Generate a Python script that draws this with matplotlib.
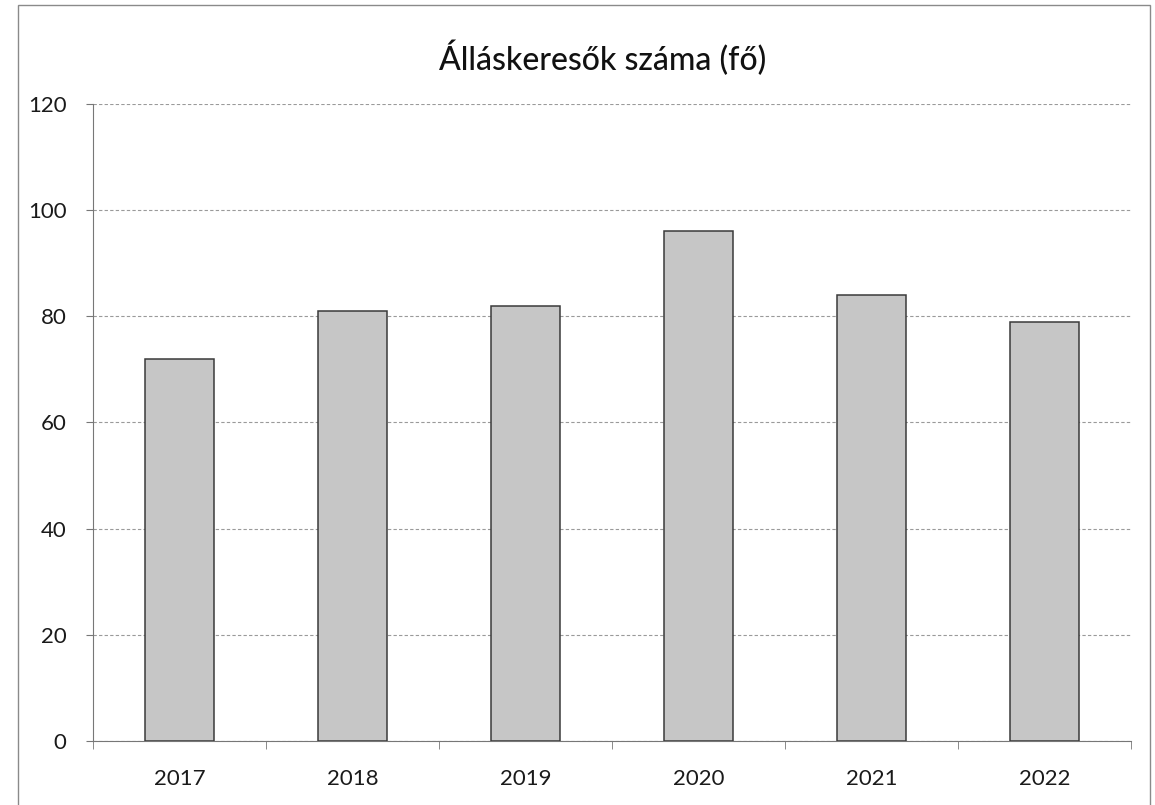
import matplotlib
matplotlib.use("Agg")
import matplotlib.pyplot as plt
from matplotlib.patches import Rectangle
import numpy as np

years = ["2017", "2018", "2019", "2020", "2021", "2022"]
values = [72, 81, 82, 96, 84, 79]
yticks = [0, 20, 40, 60, 80, 100, 120]
title = "Álláskeresők száma (fő)"

plt.rcParams['font.family'] = ['Lato', 'DejaVu Sans']

fig = plt.figure(figsize=(11.55, 8.05), dpi=100)
ax = fig.add_axes([93/1155, 1-741/805, (1131-93)/1155, (741-104)/805])

x = np.arange(len(years))
ax.bar(x, values, width=0.4, color="#c6c6c6", edgecolor="#3a3a3a", linewidth=1.1, zorder=3)

ax.set_xlim(-0.5, len(years)-0.5)
ax.set_ylim(0, 120)
ax.set_yticks(yticks)
ax.set_yticklabels([str(t) for t in yticks], fontsize=16, color="#1a1a1a")
ax.set_xticks(x)
ax.set_xticklabels(years, fontsize=16, color="#1a1a1a")
ax.tick_params(axis='x', length=0, pad=20)
ax.tick_params(axis='y', length=5, pad=14, color="#777777")
ax.set_xticks(np.arange(-0.5, len(years), 1.0), minor=True)
ax.tick_params(axis='x', which='minor', length=6, color="#777777")

ax.grid(axis='y', color="#9a9a9a", linestyle=(0, (3, 2)), linewidth=0.8, zorder=0)
for s in ['top', 'right']:
    ax.spines[s].set_visible(False)
ax.spines['left'].set_color("#777777")
ax.spines['bottom'].set_color("#777777")

fig.text(603/1155, 1-58/805, title, ha='center', va='center', fontsize=23,
         fontweight='medium', color="#111111")

fig.patches.append(Rectangle((18/1155, -0.01), (1150-18)/1155, 1-5/805+0.01,
                             transform=fig.transFigure, fill=False,
                             edgecolor="#8a8a8a", linewidth=1.0))

fig.savefig("out.png", dpi=100, facecolor="white")
